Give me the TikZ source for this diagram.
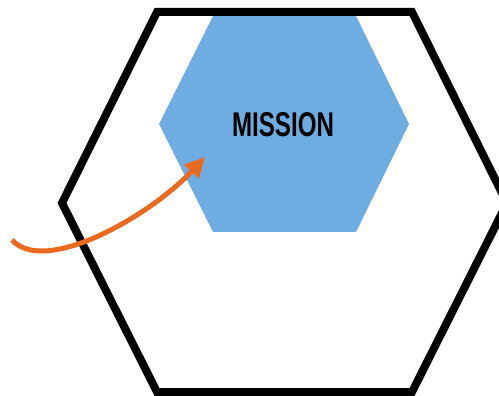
\documentclass[tikz,border=0pt]{standalone}
\usepackage{fontspec}
\setmainfont{Liberation Sans}
\usetikzlibrary{arrows.meta}
\definecolor{hexblue}{RGB}{111,172,226}
\definecolor{arroworange}{RGB}{236,106,30}
\tikzset{
  outerhex/.style={draw=black,line width=8pt,line join=miter},
  innerhex/.style={fill=hexblue,draw=none},
  orangearrow/.style={draw=arroworange,line width=5pt,-{Triangle[length=20pt,width=19pt]}},
  labeltext/.style={inner sep=0pt,font=\bfseries}
}
\begin{document}
\begin{tikzpicture}[x=1pt,y=-1pt]
\useasboundingbox (0,0) rectangle (499,396);
\fill[innerhex] (213,16) -- (356,16) -- (409,124) -- (356,232) -- (213,232) -- (159,124) -- cycle;
\draw[outerhex] (157,12) -- (412,12) -- (507,203) -- (412,392) -- (157,392) -- (62,203) -- cycle;
\node[labeltext] (mission) at (283,125) {\resizebox{102pt}{24pt}{MISSION}};
\coordinate (start) at (12,240);
\coordinate (tip) at (205,157);
\draw[orangearrow] (start) .. controls (45,276) and (150,216) .. (tip);
\end{tikzpicture}
\end{document}
